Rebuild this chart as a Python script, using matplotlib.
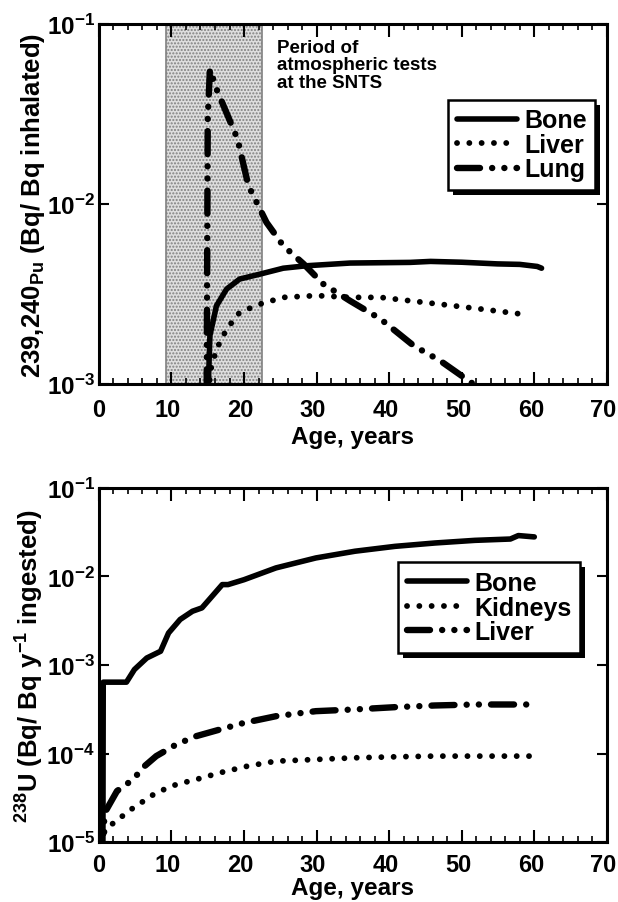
import numpy as np, matplotlib; matplotlib.use("Agg")
import matplotlib.pyplot as plt
from matplotlib.patches import Rectangle
from matplotlib.transforms import IdentityTransform, ScaledTranslation

plt.rcParams['font.family']=['Liberation Sans','DejaVu Sans']
plt.rcParams['font.weight']='bold'
plt.rcParams['mathtext.fontset']='custom'
plt.rcParams['mathtext.rm']='Liberation Sans:bold'
plt.rcParams['mathtext.bf']='Liberation Sans:bold'
plt.rcParams['mathtext.it']='Liberation Sans:bold'
plt.rcParams['mathtext.default']='bf'
plt.rcParams['hatch.color']='#8c8c8c'

# --- 239,240Pu, inhalation (top panel)
pu_bone_age=[15.05,15.3,16.2,17.6,19.4,22.2,25.4,28.6,34.6,38.8,42.9,45.7,50.0,54.9,58.0,60.4,61.0]
pu_bone=[9.0e-4,1.86e-3,2.72e-3,3.37e-3,3.83e-3,4.08e-3,4.40e-3,4.54e-3,4.70e-3,4.72e-3,4.74e-3,4.80e-3,4.75e-3,4.65e-3,4.62e-3,4.50e-3,4.40e-3]
pu_liver_age=[15.1,15.4,16.2,17.6,19.4,22.2,25.4,30.0,34.6,38.8,42.9,47.9,53.0,59.2]
pu_liver=[9.0e-4,1.2e-3,1.56e-3,2.02e-3,2.50e-3,2.78e-3,3.03e-3,3.10e-3,3.03e-3,3.03e-3,2.90e-3,2.75e-3,2.60e-3,2.42e-3]
pu_lung_age=[14.85,15.0,15.3,16.2,19.1,20.6,23.1,25.4,28.2,30.9,34.6,38.8,43.4,47.0,51.6,52.5]
pu_lung=[9.0e-4,3.0e-2,5.6e-2,4.36e-2,2.3e-2,1.265e-2,7.9e-3,5.87e-3,4.65e-3,3.6e-3,2.9e-3,2.3e-3,1.63e-3,1.35e-3,1.0e-3,9.0e-4]
test_period=(9.2,22.5)

# --- 238U, ingestion (bottom panel)
u_bone_age=[0.55,0.6,3.8,4.9,6.6,8.5,9.6,11.2,12.9,14.2,15.6,17.0,17.8,20.0,24.4,29.9,35.3,40.8,46.3,51.8,56.7,57.8,60.0]
u_bone=[5e-6,6.4e-4,6.4e-4,8.9e-4,1.2e-3,1.43e-3,2.3e-3,3.27e-3,4.05e-3,4.42e-3,5.98e-3,8.1e-3,8.1e-3,9.2e-3,1.25e-2,1.62e-2,1.93e-2,2.19e-2,2.39e-2,2.56e-2,2.65e-2,2.9e-2,2.8e-2]
u_kid_age=[0.3,0.8,2.5,4.1,7.9,10.7,13.4,16.7,20.5,24.4,29.9,35.3,40.8,46.3,60.0]
u_kid=[5e-6,1.39e-5,1.75e-5,2.24e-5,3.61e-5,4.48e-5,5.09e-5,6.07e-5,7.21e-5,8.2e-5,8.57e-5,8.95e-5,9.18e-5,9.35e-5,9.35e-5]
u_liv_age=[0.3,0.8,2.5,4.7,6.3,7.9,10.7,13.4,16.7,20.0,24.4,29.9,35.3,40.8,46.3,51.8,60.0]
u_liv=[5e-6,2.14e-5,3.77e-5,5.09e-5,7.21e-5,9.35e-5,1.27e-4,1.57e-4,1.87e-4,2.22e-4,2.64e-4,3.01e-4,3.15e-4,3.34e-4,3.49e-4,3.58e-4,3.58e-4]

SOLID=dict(color='k',lw=4.0,solid_capstyle='round',solid_joinstyle='round')
DOT=dict(color='k',lw=4.2,linestyle=(0,(0.01,2.1)),dash_capstyle='round')
DDD=dict(color='k',lw=4.6,linestyle=(0,(3.6,1.9,0.01,1.9,0.01,1.9)),dash_capstyle='round')

fig=plt.figure(figsize=(6.18,9.03),dpi=100)
ax1=fig.add_axes([0.160,0.5736,0.822,0.3987])
ax2=fig.add_axes([0.160,0.0664,0.822,0.3921])

def style(ax,ylo,xpad,lpad):
    ax.set_yscale('log'); ax.set_xlim(0,70); ax.set_ylim(ylo,1e-1)
    ax.set_xticks(range(0,71,10)); ax.set_xticks(range(0,71,2),minor=True)
    ax.tick_params(axis='x',which='major',direction='in',length=9,width=1.5,top=True,labelsize=17,pad=xpad)
    ax.tick_params(axis='x',which='minor',direction='in',length=4.5,width=1.2,top=True)
    ax.tick_params(axis='y',which='major',direction='in',length=7,width=1.5,right=True,labelsize=17.5,pad=3)
    ax.tick_params(axis='y',which='minor',length=0)
    for s in ax.spines.values(): s.set_linewidth(2.2)
    ax.set_xlabel("Age, years",fontsize=17.5,fontweight='bold',labelpad=lpad)
    # the x labels sit a little left of their ticks in the original (not the "0", it would hit the y label)
    shift=ScaledTranslation(-0.035,0,fig.dpi_scale_trans)
    for lab in ax.get_xticklabels()[1:]: lab.set_transform(lab.get_transform()+shift)

style(ax1,1e-3,10,3)
ax1.axvspan(*test_period,facecolor='#dedede',edgecolor='#808080',hatch='.....',lw=1.2,zorder=0)
ax1.plot(pu_bone_age,pu_bone,label='Bone',**SOLID)
ax1.plot(pu_liver_age,pu_liver,label='Liver',**DOT)
ax1.plot(pu_lung_age,pu_lung,label='Lung',**DDD)
ax1.text(24.5,0.083,"Period of\natmospheric tests\nat the SNTS",fontsize=13.5,fontweight='bold',va='top',ha='left',linespacing=1.05)
ax1.set_ylabel(r"239,240$_{\mathbf{Pu}}$ (Bq/ Bq inhalated)",fontsize=18.5,fontweight='bold',labelpad=0)
leg1=ax1.legend(loc='upper left',bbox_to_anchor=(0.687,0.79),fontsize=18,frameon=True,fancybox=False,
                handlelength=2.4,handletextpad=0.3,labelspacing=0.02,borderpad=0.35,borderaxespad=0)

style(ax2,1e-5,8,0)
ax2.plot(u_bone_age,u_bone,label='Bone',**SOLID)
ax2.plot(u_kid_age,u_kid,label='Kidneys',**DOT)
ax2.plot(u_liv_age,u_liv,label='Liver',**DDD)
ax2.set_ylabel(r"$^{238}$U (Bq/ Bq y$^{-1}$ ingested)",fontsize=18.5,fontweight='bold',labelpad=0)
leg2=ax2.legend(loc='upper left',bbox_to_anchor=(0.589,0.79),fontsize=18,frameon=True,fancybox=False,
                handlelength=2.4,handletextpad=0.3,labelspacing=0.02,borderpad=0.35,borderaxespad=0)

for lg in (leg1,leg2):
    f=lg.get_frame(); f.set_edgecolor('k'); f.set_linewidth(1.8); f.set_alpha(1)
    lg.set_zorder(5)

# black drop shadow under each legend box
fig.canvas.draw()
for ax,lg in ((ax1,leg1),(ax2,leg2)):
    bb=lg.get_window_extent()
    ax.add_patch(Rectangle((bb.x0+5,bb.y0-5),bb.width,bb.height,transform=IdentityTransform(),
                           facecolor='k',edgecolor='none',zorder=4,clip_on=False))

fig.savefig("out.png",dpi=100)
